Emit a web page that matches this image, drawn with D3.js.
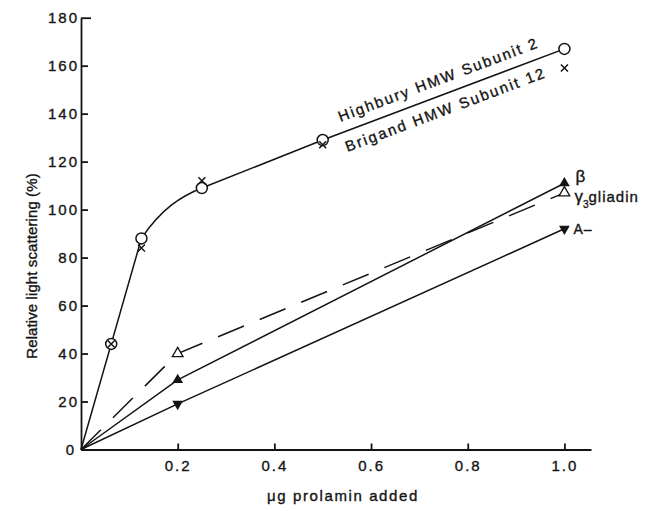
<!DOCTYPE html>
<html>
<head>
<meta charset="utf-8">
<script src="https://cdn.jsdelivr.net/npm/d3@7"></script>
<style>
  html, body { margin: 0; padding: 0; background: #fff; }
  svg text { font-family: 'Liberation Sans', Arial, Helvetica, sans-serif; fill: #141414; stroke: #141414; stroke-width: 0.35px; }
  .axis path, .axis line { stroke: #141414; stroke-width: 1.8; }
</style>
</head>
<body>
<svg id="chart" width="654" height="511"></svg>
<script>
// Highbury HMW subunit 2 (open circles)
var highburyX = [0, 0.0625, 0.125, 0.25, 0.5, 1.0]
var highbury = [0, 44, 88, 109, 129, 167]
// Brigand HMW subunit 12 (x marks)
var brigandX = [0.0625, 0.125, 0.25, 0.5, 1.0]
var brigand = [44, 84, 112, 127, 159]
// gliadins
var gliadinX = [0, 0.2, 1.0]
var betaGliadin = [0, 29, 111]
var gamma3Gliadin = [0, 40, 107]
var aGliadin = [0, 19, 92]

var xTicks = [0.2, 0.4, 0.6, 0.8, 1.0]
var yTicks = [0, 20, 40, 60, 80, 100, 120, 140, 160, 180]

var svg = d3.select('#chart'),
  ink = '#141414',
  font = "'Liberation Sans', Arial, Helvetica, sans-serif"

var x = d3.scaleLinear().domain([0, 1.055]).range([81, 591]),
  y = d3.scaleLinear().domain([0, 180]).range([449.5, 17.7])

function pts (xs, ys) {
  return xs.map(function (d, i) { return [d, ys[i]] })
}

var line = d3.line()
  .x(function (d) { return x(d[0]) })
  .y(function (d) { return y(d[1]) })

// axes
svg.append('g')
  .attr('class', 'axis')
  .attr('transform', 'translate(0,' + y(0) + ')')
  .call(d3.axisBottom(x).tickValues(xTicks).tickSizeInner(-6).tickSizeOuter(0).tickPadding(11).tickFormat(d3.format('.1f')))

var yAxis = svg.append('g')
  .attr('class', 'axis')
  .attr('transform', 'translate(' + x(0) + ',0)')
  .call(d3.axisLeft(y).tickValues(yTicks).tickSizeInner(-7).tickSizeOuter(0).tickPadding(2))
yAxis.selectAll('.tick line').filter(function (d) { return d === 180 }).attr('x2', 10)
yAxis.selectAll('.tick text').filter(function (d) { return d === 0 }).attr('dx', -3)

svg.selectAll('.axis .tick text')
  .style('font-family', font).style('font-size', '15px').style('letter-spacing', '2px').style('fill', ink)

// lines
var gl = svg.append('g').attr('fill', 'none').attr('stroke', ink).attr('stroke-width', 1.5)

// HMW line: straight start, one bend between 0.125 and 0.25, straight after
var hb = pts(highburyX, highbury)
var a = hb[2], b = hb[3], h = (b[0] - a[0]) / 3
var m0 = 300, m1 = (hb[4][1] - b[1]) / (hb[4][0] - b[0])
var hp = d3.path()
hp.moveTo(x(hb[0][0]), y(hb[0][1]))
hp.lineTo(x(hb[1][0]), y(hb[1][1]))
hp.lineTo(x(a[0]), y(a[1]))
hp.bezierCurveTo(x(a[0] + h), y(a[1] + m0 * h), x(b[0] - h), y(b[1] - m1 * h), x(b[0]), y(b[1]))
hb.slice(4).forEach(function (d) { hp.lineTo(x(d[0]), y(d[1])) })
gl.append('path').attr('d', hp.toString())

gl.append('path').attr('d', line(pts(gliadinX, betaGliadin)))
gl.append('path').attr('d', line(pts(gliadinX, aGliadin)))
gl.append('path').attr('d', line(pts(gliadinX, gamma3Gliadin)))
  .attr('stroke-dasharray', '28,17')

// markers
var gm = svg.append('g')

gm.selectAll('.hb').data(hb.slice(1)).enter().append('circle')
  .attr('cx', function (d) { return x(d[0]) })
  .attr('cy', function (d) { return y(d[1]) })
  .attr('r', 5.5)
  .attr('fill', '#fff').attr('stroke', ink).attr('stroke-width', 1.5)

gm.selectAll('.br').data(pts(brigandX, brigand)).enter().append('path')
  .attr('transform', function (d) { return 'translate(' + x(d[0]) + ',' + y(d[1]) + ')' })
  .attr('d', 'M-3.5,-3.5L3.5,3.5M-3.5,3.5L3.5,-3.5')
  .attr('stroke', ink).attr('stroke-width', 1.5)

var tri = d3.symbol().type(d3.symbolTriangle).size(50)

gm.selectAll('.beta').data(pts(gliadinX, betaGliadin).slice(1)).enter().append('path')
  .attr('transform', function (d) { return 'translate(' + x(d[0]) + ',' + y(d[1]) + ')' })
  .attr('d', tri).attr('fill', ink)

gm.selectAll('.aa').data(pts(gliadinX, aGliadin).slice(1)).enter().append('path')
  .attr('transform', function (d) { return 'translate(' + x(d[0]) + ',' + y(d[1]) + ') rotate(180)' })
  .attr('d', tri).attr('fill', ink)

gm.selectAll('.gam').data(pts(gliadinX, gamma3Gliadin).slice(1)).enter().append('path')
  .attr('transform', function (d) { return 'translate(' + x(d[0]) + ',' + y(d[1]) + ')' })
  .attr('d', tri).attr('fill', '#fff').attr('stroke', ink).attr('stroke-width', 1.3)

// labels along the HMW line
var p0 = [x(0.5), y(129)], p1 = [x(1.0), y(167)]
var ang = Math.atan2(p1[1] - p0[1], p1[0] - p0[0]) * 180 / Math.PI
var lab = svg.append('g')
  .attr('transform', 'translate(' + p0[0] + ',' + p0[1] + ') rotate(' + ang + ')')
  .style('font-size', '15px').style('letter-spacing', '2px')
lab.append('text').attr('x', 23).attr('y', -10.5).text('Highbury HMW Subunit 2')
lab.append('text').attr('x', 19).attr('y', 20).text('Brigand HMW Subunit 12')

// end labels for gliadins
svg.append('text')
  .attr('x', x(1.0) + 11).attr('y', y(111) - 1)
  .style('font-size', '17px').text('β')
var gt = svg.append('text')
  .attr('x', x(1.0) + 10).attr('y', y(107) + 9)
  .style('font-size', '17px')
gt.append('tspan').text('γ')
gt.append('tspan').attr('dy', 6).style('font-size', '10px').text('3')
gt.append('tspan').attr('dy', -6).style('font-size', '15px').style('letter-spacing', '1px').text('gliadin')
svg.append('text')
  .attr('x', x(1.0) + 9).attr('y', y(92) + 5)
  .style('font-size', '14px').style('letter-spacing', '1px').text('A–')

// axis titles
svg.append('text')
  .attr('transform', 'translate(37,266) rotate(-90)')
  .style('text-anchor', 'middle').style('font-size', '15px').style('letter-spacing', '0.1px')
  .text('Relative light scattering (%)')

svg.append('text')
  .attr('x', 343).attr('y', 501)
  .style('text-anchor', 'middle').style('font-size', '15px').style('letter-spacing', '1.6px')
  .text('μg prolamin added')
</script>
</body>
</html>
